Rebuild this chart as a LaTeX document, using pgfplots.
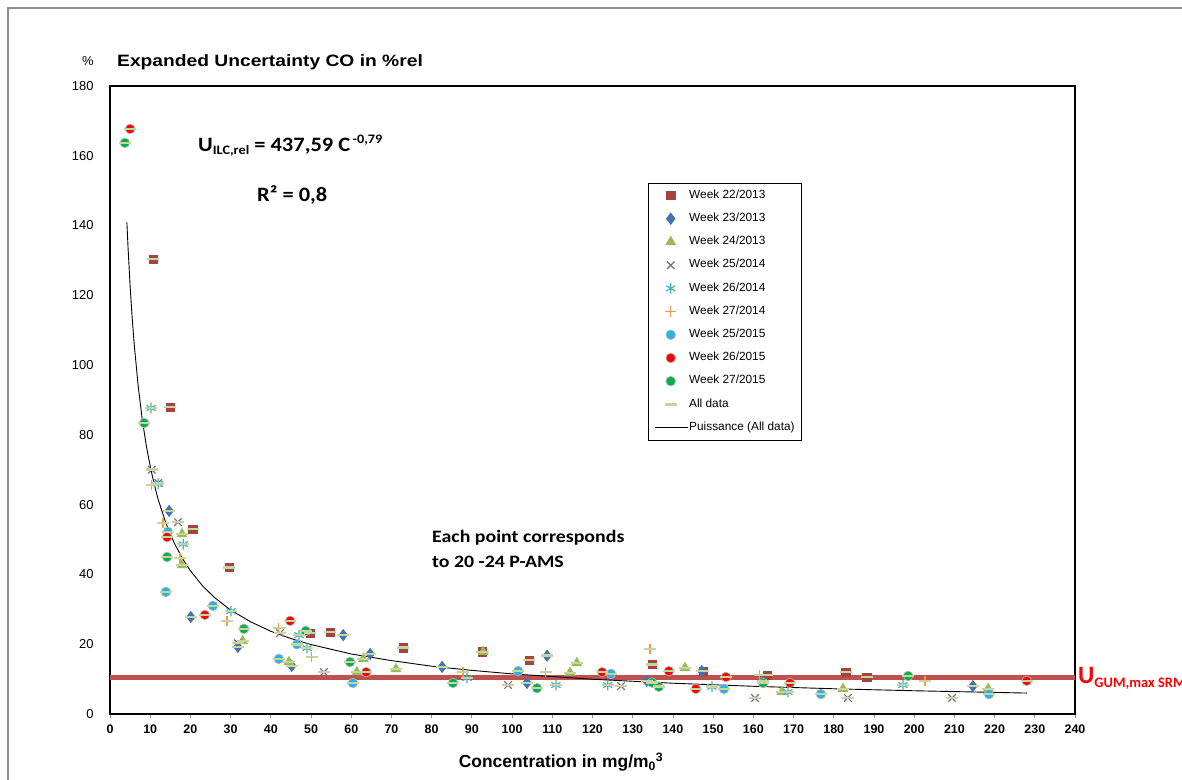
\documentclass[border=0pt]{standalone}
\usepackage{pgfplots}
\usepackage{pgfplotstable}
\pgfplotsset{compat=1.18}
\usepackage{fontspec}
\setmainfont{Liberation Sans}
\newfontfamily\calibri{Carlito}
\definecolor{cWa}{RGB}{166,66,63}
\definecolor{cWb}{RGB}{68,114,180}
\definecolor{cWc}{RGB}{155,187,89}
\definecolor{cWd}{RGB}{128,100,162}
\definecolor{cWe}{RGB}{75,172,198}
\definecolor{cWf}{RGB}{247,150,70}
\definecolor{cWg}{RGB}{40,180,235}
\definecolor{cWh}{RGB}{255,0,0}
\definecolor{cWi}{RGB}{0,176,80}
\definecolor{cAll}{RGB}{195,214,155}
\definecolor{cGum}{RGB}{192,80,77}
\definecolor{cRedTxt}{RGB}{255,0,0}

\pgfplotstableread{
x y
10.7 130.4
14.9 88
20.6 53
29.6 42
49.8 23.2
54.7 23.5
72.9 19
92.5 17.8
104.2 15.5
134.8 14.2
147.5 12.3
163.4 11.2
183 12
188.2 10.6
}\tWa
\pgfplotstableread{
x y
14.7 58.2
20.1 27.8
31.8 19.2
45.2 13.8
58 22.6
64.7 17.2
82.6 13.5
103.7 8.9
108.7 16.7
133.5 9.5
147.2 12.3
162.4 9.3
214.6 8
}\tWb
\pgfplotstableread{
x y
17.9 51.6
17.9 42.7
33 20.9
44.5 14.9
61.4 12
63 15.8
71.1 12.9
92.8 17.8
114.4 11.8
116.1 14.6
143 13.2
167.1 6.3
182.3 7.2
218.4 7.2
}\tWc
\pgfplotstableread{
x y
10.4 70
12 66.2
16.9 55
31.8 20.3
42.3 23.2
53.2 12
99 8.3
127.1 8
160.4 4.6
183.5 4.6
209.4 4.6
}\tWd
\pgfplotstableread{
x y
10.2 87.7
12 66
18.2 48.7
30.1 29.5
47 22.6
49 18.9
88.8 10.3
110.9 8.3
123.8 8.3
149.7 7.8
168.6 6.3
197.2 8.3
}\tWe
\pgfplotstableread{
x y
10.4 65.6
13.2 54.7
17.4 44.7
29.1 26.7
42 24.6
50.2 16.3
87.8 12
108.4 12
134.3 18.6
161.6 11.2
202.7 9.5
}\tWf
\pgfplotstableread{
x y
14.4 52.2
13.9 35
25.6 31
42 15.8
46.5 20
60.4 8.9
101.5 12.3
124.6 11.5
152.7 7.2
176.8 5.7
218.6 5.7
}\tWg
\pgfplotstableread{
x y
5 167.7
14.2 50.7
23.6 28.4
44.8 26.7
63.7 12
122.4 12
139 12.3
145.7 7.2
153.2 10.6
169.1 8.9
228 9.5
}\tWh
\pgfplotstableread{
x y
3.7 163.7
8.5 83.4
14.2 45
33.3 24.4
48.7 23.8
59.7 14.9
85.3 8.9
106.2 7.4
134.8 9
136.5 7.8
162.4 8.9
198.5 10.9
}\tWi
\pgfplotstableread{
x y
4.2 140.9
4.5 133.4
5 122.7
5.5 113.8
6 106.2
7 94.1
8 84.6
9 77.1
10 71.0
11 65.8
12 61.4
14 54.4
16 48.97
18 44.6
20 41.05
23 36.76
26 33.37
30 29.8
35 26.4
40 23.7
45 21.63
50 19.9
60 17.2
70 15.3
80 13.7
90 12.5
100 11.5
120 9.96
140 8.82
160 7.94
180 7.23
200 6.66
228 6.0
}\tFit

\pgfplotsset{
  mk/.style={only marks, legend image code/.code={\draw[mark repeat=2,mark phase=2,##1] plot coordinates {(0bp,0bp) (16bp,0bp) (32bp,0bp)};}},
  alld/.style={mk, mark=-, mark size=6bp, mark options={draw=cAll, line width=2.6bp}},
  fitleg/.style={legend image code/.code={\draw[##1] (0bp,0bp) -- (33bp,0bp);}},
}

\begin{document}
\begin{tikzpicture}[x=1bp,y=1bp]
\useasboundingbox (0,0) rectangle (1182,780);
\clip (0,0) rectangle (1182,780);
\fill[white] (0,0) rectangle (1182,780);
\draw[black!45, line width=2bp] (8,-5) -- (8,772) -- (1190,772);
\begin{axis}[
  at={(110bp,66bp)}, anchor=south west,
  scale only axis, width=965bp, height=628bp,
  xmin=0, xmax=240, ymin=0, ymax=180,
  xtick={0,10,...,240}, ytick={0,20,...,180},
  axis line style={line width=1.6bp},
  xtick pos=left, ytick pos=left,
  tick align=outside,
  major tick length=4bp,
  xtick style={draw=black!45, line width=0.8bp},
  ytick style={draw=none},
  /pgf/number format/assume math mode=true,
  xticklabel style={font=\fontsize{12.5}{14}\selectfont\bfseries, yshift=-3bp},
  yticklabel style={font=\fontsize{13}{14}\selectfont, xshift=-9bp},
  legend cell align=left,
  legend style={at={(0.5575,0.8455)}, anchor=north west, draw=black, line width=0.6bp,
    font=\fontsize{11.9}{12}\selectfont, inner sep=6bp, row sep=10.7bp,
    nodes={inner sep=1bp, text height=8bp, text depth=2.5bp}},
]
\addplot[color=cGum, line width=5bp, forget plot] coordinates {(0,10.4) (240,10.4)};
\addplot[mk, mark=square*, mark size=4.2bp, mark options={fill=cWa, draw=cWa}] table {\tWa};
\addplot[mk, mark=diamond*, mark size=5.8bp, mark options={fill=cWb, draw=cWb}] table {\tWb};
\addplot[mk, mark=triangle*, mark size=5.8bp, mark options={fill=cWc, draw=cWc}] table {\tWc};
\addplot[mk, mark=x, mark size=5.3bp, mark options={draw=cWd, line width=1.2bp}] table {\tWd};
\addplot[mk, mark=asterisk, mark size=5.3bp, mark options={draw=cWe, line width=1.2bp}] table {\tWe};
\addplot[mk, mark=+, mark size=5.3bp, mark options={draw=cWf, line width=1.2bp}] table {\tWf};
\addplot[mk, mark=*, mark size=4.8bp, mark options={fill=cWg, draw=black!30, line width=0.7bp}] table {\tWg};
\addplot[mk, mark=*, mark size=4.8bp, mark options={fill=cWh, draw=black!30, line width=0.7bp}] table {\tWh};
\addplot[mk, mark=*, mark size=4.8bp, mark options={fill=cWi, draw=black!30, line width=0.7bp}] table {\tWi};
\addplot[alld, forget plot] table {\tWa};
\addplot[alld, forget plot] table {\tWb};
\addplot[alld, forget plot] table {\tWc};
\addplot[alld, forget plot] table {\tWd};
\addplot[alld, forget plot] table {\tWe};
\addplot[alld, forget plot] table {\tWf};
\addplot[alld, forget plot] table {\tWg};
\addplot[alld, forget plot] table {\tWh};
\addplot[alld] table {\tWi};
\addplot[black, line width=0.9bp, mark=none, fitleg] table {\tFit};
\legend{Week 22/2013, Week 23/2013, Week 24/2013, Week 25/2014, Week 26/2014, Week 27/2014, Week 25/2015, Week 26/2015, Week 27/2015, All data, Puissance (All data)}
\end{axis}
% titles
\node[font=\fontsize{13}{14}\selectfont] at (88,719) {\%};
\node[anchor=west, inner sep=0] at (117,718) {\scalebox{1.17}[1]{\fontsize{16.5}{18}\selectfont\bfseries Expanded Uncertainty CO in \%rel}};
\node[inner sep=0] at (561,18) {\fontsize{17.5}{19}\selectfont\bfseries Concentration in mg/m\textsubscript{0}\textsuperscript{3}};
% equation
\node[anchor=west, inner sep=0] at (198,634)
  {\scalebox{1.1}[1]{\calibri\bfseries\fontsize{20.5}{22}\selectfont U\raisebox{-3.5bp}{\fontsize{13}{14}\selectfont ILC,rel} = 437,59 C\raisebox{7.5bp}{\fontsize{13}{14}\selectfont\,-0,79}}};
\node[anchor=west, inner sep=0] at (257,585) {\scalebox{1.1}[1]{\calibri\bfseries\fontsize{20.5}{22}\selectfont R² = 0,8}};
\node[anchor=west, inner sep=0] at (432,242) {\scalebox{1.14}[1]{\calibri\bfseries\fontsize{17.5}{19}\selectfont Each point corresponds}};
\node[anchor=west, inner sep=0] at (432,218) {\scalebox{1.14}[1]{\calibri\bfseries\fontsize{17.5}{19}\selectfont to 20 -24 P-AMS}};
\node[anchor=west, inner sep=0, text=cRedTxt, font=\calibri\bfseries\fontsize{25}{27}\selectfont] at (1078,102)
  {U\raisebox{-4bp}{\fontsize{14.5}{15}\selectfont GUM,max SRM}};
\end{tikzpicture}
\end{document}
